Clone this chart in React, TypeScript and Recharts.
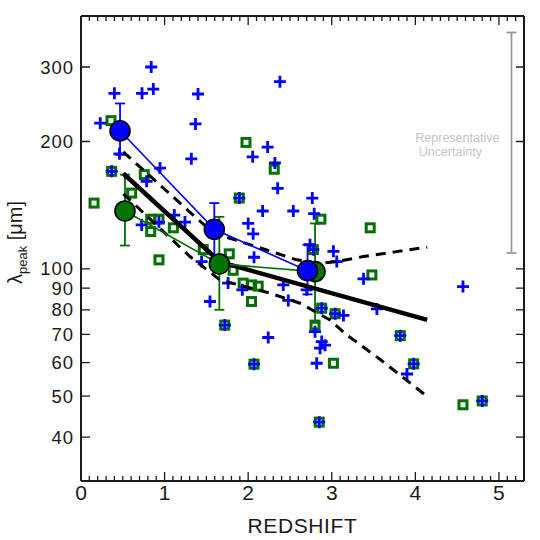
import React from 'react';
import {
  ComposedChart,
  Scatter,
  XAxis,
  YAxis,
  ErrorBar,
  ReferenceDot,
  ReferenceLine,
  Label,
} from 'recharts';

const FONT = '"Liberation Sans", Arial, Helvetica, sans-serif';
const BLUE = '#0000ff';
const GREEN = '#006f00';
const INK = '#1a1a1a';

// axis setup
const X_DOMAIN: [number, number] = [0, 5.3];
const Y_DOMAIN: [number, number] = [31.5, 396];
const X_MAJOR = [0, 1, 2, 3, 4, 5];
const X_MINOR = Array.from({ length: 53 }, (_, i) => i / 10);
const Y_TICKS = [40, 50, 60, 70, 80, 90, 100, 200, 300];

// single sources: [redshift, lambda_peak]
const BLUE_ONLY: [number, number][] = [
  [0.23, 221], [0.40, 260], [0.73, 260], [0.84, 300], [0.865, 266],
  [1.40, 259], [1.37, 220], [1.32, 182], [0.945, 173], [0.46, 187],
  [0.785, 161], [0.726, 127], [0.933, 129], [1.116, 134], [1.244, 129],
  [1.443, 104], [1.543, 83.7], [1.76, 92.5], [2.38, 277], [2.233, 194],
  [2.054, 184], [2.32, 178], [2.353, 155], [2.767, 147], [2.173, 137],
  [2.54, 137], [2.79, 135], [2.0, 128], [2.06, 121], [2.07, 106.5],
  [3.02, 110], [3.06, 104], [2.74, 114], [2.70, 89.2], [1.93, 89.2],
  [2.42, 91.6], [2.48, 84.2], [3.14, 77.6], [2.80, 71], [2.88, 67.3],
  [2.92, 66], [2.86, 64.9], [2.82, 59.8], [2.24, 68.8], [3.38, 94.7],
  [3.54, 80.4], [3.90, 56.4], [4.57, 90.8],
];

const GREEN_ONLY: [number, number][] = [
  [0.359, 224], [0.757, 167], [0.606, 151], [0.156, 143], [0.834, 131],
  [0.933, 131], [0.834, 122.5], [1.105, 125], [0.933, 105], [1.463, 111],
  [1.774, 108.5], [1.974, 199], [2.312, 172], [2.87, 131], [1.82, 99.2],
  [1.94, 92.5], [2.04, 91.6], [2.12, 91], [2.04, 83.7], [2.80, 73.6],
  [3.02, 59.8], [3.46, 125], [3.48, 96.7], [4.57, 47.7],
];

const BOTH: [number, number][] = [
  [0.367, 170], [1.894, 147], [2.78, 111], [2.88, 80.7], [3.04, 78.3],
  [1.72, 73.6], [2.07, 59.5], [2.85, 43.4], [3.82, 69.5], [3.98, 59.6],
  [4.80, 48.7],
];

// binned means with asymmetric errors [down, up]
const BLUE_MEAN_Z = [0.467, 1.595, 2.71];
const BLUE_MEAN_LAM = [212, 124, 99];
const BLUE_MEAN_ERR = [[26, 34], [18, 19], [12, 15]];

const GREEN_MEAN_Z = [0.526, 1.655, 2.80];
const GREEN_MEAN_LAM = [137, 102.7, 98.5];
const GREEN_MEAN_ERR = [[23.5, 30], [22.7, 30], [24, 29.5]];

// fit and its band
const FIT_Z = [0.506, 1.663, 4.142];
const FIT_LAM = [168, 103.8, 75.7];
const UPPER_Z = [0.506, 1.591, 1.782, 2.221, 2.58, 2.859, 3.058, 3.377, 3.776, 4.142];
const UPPER_LAM = [189, 121, 118.1, 110.8, 105, 103, 104, 106.9, 109.8, 112.5];
const LOWER_Z = [0.506, 1.304, 1.663, 2.26, 2.62, 2.978, 3.178, 3.577, 4.142];
const LOWER_LAM = [150.4, 106.9, 94.1, 87.6, 82.9, 75.7, 69.8, 61.1, 49.9];

// representative uncertainty bar
const UNC = [{ z: 5.15, lam: 200, err: [91, 162] }];

const pairs = (arr: [number, number][]) => arr.map(([z, lam]) => ({ z, lam }));
const zip = (zs: number[], lams: number[], errs?: number[][]) =>
  zs.map((z, i) => ({ z, lam: lams[i], err: errs ? errs[i] : undefined }));

const PlusShape = ({ cx, cy }: any) => (
  <path
    d={`M${cx - 6},${cy}H${cx + 6}M${cx},${cy - 6}V${cy + 6}`}
    stroke={BLUE}
    strokeWidth={2.8}
    fill="none"
  />
);

const SquareShape = ({ cx, cy }: any) => (
  <rect x={cx - 4} y={cy - 4} width={8} height={8} fill="none" stroke={GREEN} strokeWidth={3} />
);

const BothShape = (props: any) => (
  <g>
    <SquareShape {...props} />
    <PlusShape {...props} />
  </g>
);

const circleShape = (fill: string) => ({ cx, cy }: any) => (
  <circle cx={cx} cy={cy} r={10} fill={fill} stroke="#000" strokeWidth={1.6} />
);

const NoShape = () => <g />;

// inward tick marks on both sides, drawn from the reference line's end points
const xTickShape = (len: number) => ({ x1, y1, y2 }: any) => {
  const top = Math.min(y1, y2);
  const bot = Math.max(y1, y2);
  return (
    <path
      d={`M${x1},${bot}V${bot - len}M${x1},${top}V${top + len}`}
      stroke={INK}
      strokeWidth={1.3}
      fill="none"
    />
  );
};

const yTickShape = ({ x1, x2, y1 }: any) => {
  const l = Math.min(x1, x2);
  const r = Math.max(x1, x2);
  return (
    <path d={`M${l},${y1}H${l + 9}M${r},${y1}H${r - 8}`} stroke={INK} strokeWidth={1.3} fill="none" />
  );
};

const BottomTick = ({ x, y, payload }: any) => (
  <text x={x} y={y + 19} textAnchor="middle" fontSize={21} fontFamily={FONT} fill={INK}>
    {payload.value}
  </text>
);

const LeftTick = ({ x, y, payload }: any) => (
  <text
    x={x - 7}
    y={y}
    dy="0.36em"
    textAnchor="end"
    fontSize={18.5}
    letterSpacing={1}
    fontFamily={FONT}
    fill={INK}
  >
    {payload.value}
  </text>
);

const YTitle = ({ viewBox }: any) => {
  const x = viewBox.x + 1;
  const y = viewBox.y + viewBox.height / 2 - 6;
  return (
    <text
      x={x}
      y={y}
      transform={`rotate(-90, ${x}, ${y})`}
      textAnchor="middle"
      fontSize={20}
      fontFamily={FONT}
      fill={INK}
    >
      λ
      <tspan fontSize={13} dy={5}>peak</tspan>
      <tspan dy={-5}> [μm]</tspan>
    </text>
  );
};

const XTitle = ({ viewBox }: any) => (
  <text
    x={viewBox.x + viewBox.width / 2}
    y={viewBox.y + 52}
    textAnchor="middle"
    fontSize={21}
    letterSpacing={0.6}
    fontFamily={FONT}
    fill={INK}
  >
    REDSHIFT
  </text>
);

const noteShape = (text: string) => ({ cx, cy }: any) => (
  <text x={cx} y={cy} fontSize={12.5} fontFamily={FONT} fill="#c4c4c4">
    {text}
  </text>
);

export default function App() {
  return (
    <div style={{ position: 'absolute', left: 0, top: 0, width: 540, height: 540, background: '#fff' }}>
      <ComposedChart width={540} height={540} margin={{ top: 16, right: 16, bottom: 19, left: 21 }}>
        <XAxis
          dataKey="z"
          type="number"
          domain={X_DOMAIN}
          allowDataOverflow
          ticks={X_MAJOR}
          interval={0}
          tick={<BottomTick />}
          tickLine={false}
          tickSize={0}
          tickMargin={0}
          axisLine={false}
          height={40}
        >
          <Label content={<XTitle />} />
        </XAxis>
        <YAxis
          dataKey="lam"
          type="number"
          scale="log"
          domain={Y_DOMAIN}
          allowDataOverflow
          ticks={Y_TICKS}
          interval={0}
          tick={<LeftTick />}
          tickLine={false}
          tickSize={0}
          tickMargin={0}
          axisLine={false}
          width={60}
        >
          <Label content={<YTitle />} />
        </YAxis>

        {X_MINOR.map((v) => (
          <ReferenceLine
            key={`xt-${v}`}
            x={v}
            ifOverflow="visible"
            shape={xTickShape(Number.isInteger(v) ? 9 : 5)}
          />
        ))}
        {Y_TICKS.map((v) => (
          <ReferenceLine key={`yt-${v}`} y={v} ifOverflow="visible" shape={yTickShape} />
        ))}

        <Scatter data={pairs(GREEN_ONLY)} dataKey="lam" shape={<SquareShape />} isAnimationActive={false} />
        <Scatter data={pairs(BOTH)} dataKey="lam" shape={<BothShape />} isAnimationActive={false} />
        <Scatter data={pairs(BLUE_ONLY)} dataKey="lam" shape={<PlusShape />} isAnimationActive={false} />

        <Scatter
          data={zip(UPPER_Z, UPPER_LAM)}
          dataKey="lam"
          line={{ stroke: '#000', strokeWidth: 3, strokeDasharray: '10 7' }}
          shape={<NoShape />}
          isAnimationActive={false}
        />
        <Scatter
          data={zip(LOWER_Z, LOWER_LAM)}
          dataKey="lam"
          line={{ stroke: '#000', strokeWidth: 3, strokeDasharray: '10 7' }}
          shape={<NoShape />}
          isAnimationActive={false}
        />
        <Scatter
          data={zip(FIT_Z, FIT_LAM)}
          dataKey="lam"
          line={{ stroke: '#000', strokeWidth: 4.5 }}
          shape={<NoShape />}
          isAnimationActive={false}
        />

        <Scatter
          data={zip(GREEN_MEAN_Z, GREEN_MEAN_LAM, GREEN_MEAN_ERR)}
          dataKey="lam"
          line={{ stroke: GREEN, strokeWidth: 1.6 }}
          shape={circleShape('#007400')}
          isAnimationActive={false}
        >
          <ErrorBar dataKey="err" direction="y" width={5} stroke={GREEN} strokeWidth={1.8} />
        </Scatter>
        <Scatter
          data={zip(BLUE_MEAN_Z, BLUE_MEAN_LAM, BLUE_MEAN_ERR)}
          dataKey="lam"
          line={{ stroke: BLUE, strokeWidth: 1.6 }}
          shape={circleShape(BLUE)}
          isAnimationActive={false}
        >
          <ErrorBar dataKey="err" direction="y" width={5} stroke={BLUE} strokeWidth={1.8} />
        </Scatter>

        <Scatter data={UNC} dataKey="lam" shape={<NoShape />} isAnimationActive={false}>
          <ErrorBar dataKey="err" direction="y" width={5} stroke="#9a9a9a" strokeWidth={1.8} />
        </Scatter>
        <ReferenceDot x={4.0} y={199} r={0} ifOverflow="visible" shape={noteShape('Representative')} />
        <ReferenceDot x={4.04} y={185} r={0} ifOverflow="visible" shape={noteShape('Uncertainty')} />

        {/* plot frame */}
        <ReferenceLine x={X_DOMAIN[0]} stroke={INK} strokeWidth={2} ifOverflow="visible" />
        <ReferenceLine x={X_DOMAIN[1]} stroke={INK} strokeWidth={2} ifOverflow="visible" />
        <ReferenceLine y={Y_DOMAIN[0]} stroke={INK} strokeWidth={2} ifOverflow="visible" />
        <ReferenceLine y={Y_DOMAIN[1]} stroke={INK} strokeWidth={2} ifOverflow="visible" />
      </ComposedChart>
    </div>
  );
}
